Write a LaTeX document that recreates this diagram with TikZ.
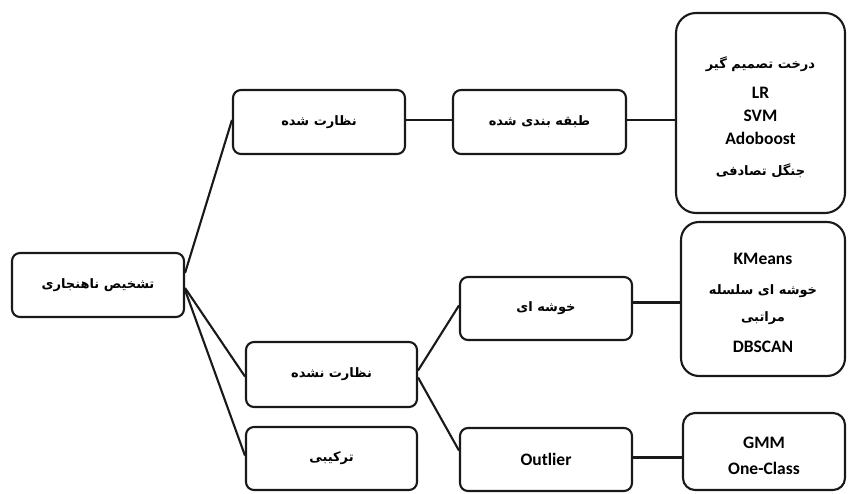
\documentclass[tikz,border=0pt]{standalone}
\usepackage{fontspec}
\setmainfont{Carlito}
\newfontfamily\fa[Script=Arabic]{DejaVu Sans}
\TeXXeTstate=1
\newcommand{\pr}[1]{{\fa\bfseries\fontsize{13}{15}\selectfont\beginR #1\endR}}
\newcommand{\topstrut}[1]{\rule{0pt}{#1}}
\begin{document}
\begin{tikzpicture}[x=1pt,y=-1pt,
  box/.style={draw=black!90, line width=2.1pt, rounded corners=8pt, fill=white,
    inner sep=0pt, align=center, font=\bfseries\fontsize{17.5}{23}\selectfont},
  bigbox/.style={box, rounded corners=20pt},
  link/.style={draw=black!90, line width=2.1pt}]
\useasboundingbox (0,0) rectangle (848,494);
\fill[white] (0,0) rectangle (848,494);
% first column
\node[box, minimum width=172pt, minimum height=64pt] (root) at (98,285) {\pr{تشخیص ناهنجاری}};
% second column
\node[box, minimum width=172pt, minimum height=64pt] (sup) at (319,122) {\pr{نظارت شده}};
\node[box, minimum width=171pt, minimum height=65pt] (unsup) at (331.5,374.5) {\pr{نظارت نشده}};
\node[box, minimum width=171pt, minimum height=63pt] (hyb) at (331.5,458.5) {\pr{ترکیبی}};
% third column
\node[box, minimum width=173pt, minimum height=64pt] (cls) at (539.5,122) {\pr{طبقه بندی شده}};
\node[box, minimum width=172pt, minimum height=63pt] (clu) at (546,308.5) {\pr{خوشه ای}};
\node[box, minimum width=172pt, minimum height=63pt] (out) at (546,459.5) {Outlier};
% fourth column
\node[bigbox, minimum width=169pt, minimum height=200pt] (big1) at (760.5,113)
  {\topstrut{20pt}\pr{درخت تصمیم گیر}\\[7pt] LR\\ SVM\\ Adoboost\\[8pt] \pr{جنگل تصادفی}};
\node[bigbox, rounded corners=18pt, minimum width=164pt, minimum height=154pt] (big2) at (763,299)
  {\topstrut{20pt}KMeans\\[7pt] \pr{خوشه ای سلسله}\\[4pt] \pr{مراتبی}\\[8pt] DBSCAN};
\node[bigbox, rounded corners=12pt, minimum width=162pt, minimum height=77pt] (big3) at (764,451.5)
  {\topstrut{20pt}GMM\\[3pt] One-Class};
% connectors
\draw[link] ([yshift=12pt]root.east) -- ([yshift=2pt]sup.west);
\draw[link] ([yshift=-3pt]root.east) -- ([yshift=-2pt]unsup.west);
\draw[link] ([yshift=-5pt]root.east) -- ([yshift=3pt]hyb.west);
\draw[link] ([yshift=2pt]sup.east) -- ([yshift=2pt]cls.west);
\draw[link] ([yshift=2pt]cls.east) -- ([yshift=2pt]cls.east -| big1.west);
\draw[link] ([yshift=4pt]unsup.east) -- ([yshift=3pt]clu.west);
\draw[link] ([yshift=-3pt]unsup.east) -- ([yshift=9pt]out.west);
\draw[link] ([yshift=6pt]clu.east) -- ([yshift=6pt]clu.east -| big2.west);
\draw[link] ([yshift=2pt]out.east) -- ([yshift=2pt]out.east -| big3.west);
\end{tikzpicture}
\end{document}
